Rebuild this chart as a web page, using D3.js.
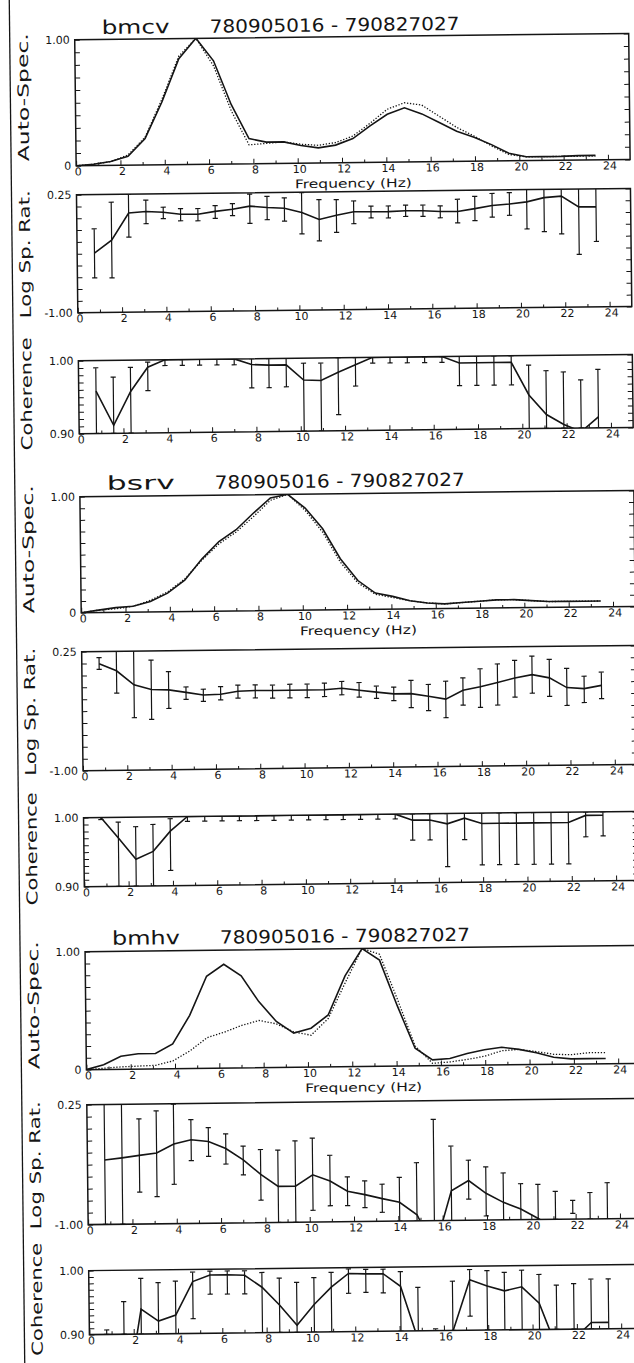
<!DOCTYPE html>
<html>
<head>
<meta charset="utf-8">
<script src="https://cdn.jsdelivr.net/npm/d3@7"></script>
<style>
  html, body { margin: 0; padding: 0; background: #fff; }
  svg { display: block; background: #fff; }
  text { font-family: 'DejaVu Sans', sans-serif; fill: #151515; }
  .axis text { font-size: 11px; }
  .axis line { stroke: #151515; stroke-width: 1; }
</style>
</head>
<body>
<svg id="chart" width="634" height="1363"></svg>
<script>
// spectral estimates are spaced 25/32 Hz apart
const binWidth = 25 / 32;
const specFreqs = d3.range(0, 31).map(k => k * binWidth);   // auto-spectra start at 0 Hz
const binFreqs = d3.range(1, 31).map(k => k * binWidth);    // ratio / coherence start at first bin
const freqLabels = [0, 2, 4, 6, 8, 10, 12, 14, 16, 18, 20, 22, 24];
const dateRange = '780905016 - 790827027';

// ---- bmcv ----
const bmcvSpecSolid  = [0, 0.01, 0.03, 0.07, 0.21, 0.5, 0.84, 1.0, 0.82, 0.47, 0.2, 0.17, 0.17, 0.14, 0.12, 0.14, 0.19, 0.29, 0.38, 0.43, 0.38, 0.31, 0.24, 0.19, 0.13, 0.06, 0.03, 0.03, 0.03, 0.035, 0.035];
const bmcvSpecDotted = [0, 0.01, 0.03, 0.08, 0.22, 0.52, 0.86, 1.0, 0.78, 0.42, 0.15, 0.16, 0.17, 0.15, 0.14, 0.16, 0.21, 0.31, 0.42, 0.47, 0.45, 0.36, 0.27, 0.2, 0.12, 0.05, 0.03, 0.03, 0.03, 0.03, 0.03];
const bmcvRatio   = [-0.37, -0.235, 0.05, 0.063, 0.053, 0.03, 0.028, 0.057, 0.077, 0.108, 0.092, 0.081, 0.034, -0.042, 0.001, 0.036, 0.034, 0.033, 0.04, 0.039, 0.028, 0.026, 0.055, 0.086, 0.1, 0.12, 0.163, 0.177, 0.061, 0.059];
const bmcvRatioHi = [-0.113, 0.166, 0.25, 0.184, 0.107, 0.09, 0.089, 0.117, 0.137, 0.235, 0.209, 0.192, 0.245, 0.168, 0.167, 0.15, 0.094, 0.093, 0.1, 0.099, 0.088, 0.156, 0.184, 0.213, 0.22, 0.26, 0.26, 0.26, 0.26, 0.26];
const bmcvRatioLo = [-0.634, -0.636, -0.206, -0.066, -0.014, -0.039, -0.041, -0.018, 0.01, -0.075, -0.038, -0.055, -0.192, -0.268, -0.18, -0.091, -0.032, -0.034, -0.02, -0.021, -0.038, -0.094, -0.072, -0.037, -0.02, -0.167, -0.198, -0.224, -0.442, -0.308];
const bmcvCoh   = [0.958, 0.911, 0.957, 0.99, 1.0, 1.0, 1.0, 1.0, 1.0, 0.992, 0.991, 0.991, 0.97, 0.969, 0.98, 0.99, 1.0, 1.0, 1.0, 1.0, 1.0, 0.991, 0.991, 0.991, 0.991, 0.946, 0.919, 0.905, 0.895, 0.915];
const bmcvCohHi = [0.99, 0.977, 0.99, 0.997, 1, 1, 1, 1, 1, 1, 1, 1, 0.993, 0.993, 1, 1, 1, 1, 1, 1, 1, 1, 1, 1, 1, 0.987, 0.979, 0.977, 0.966, 0.98];
const bmcvCohLo = [0.9, 0.9, 0.9, 0.958, 0.992, 0.992, 0.992, 0.992, 0.992, 0.96, 0.96, 0.961, 0.9, 0.9, 0.922, 0.961, 0.992, 0.992, 0.992, 0.992, 0.992, 0.96, 0.96, 0.96, 0.96, 0.9, 0.9, 0.9, 0.9, 0.9];

// ---- bsrv ----
const bsrvSpecSolid  = [0, 0.02, 0.04, 0.05, 0.09, 0.16, 0.27, 0.45, 0.6, 0.7, 0.84, 0.97, 1.0, 0.88, 0.7, 0.44, 0.25, 0.14, 0.11, 0.07, 0.05, 0.04, 0.05, 0.06, 0.07, 0.07, 0.06, 0.05, 0.05, 0.05, 0.05];
const bsrvSpecDotted = [0, 0.02, 0.03, 0.05, 0.1, 0.17, 0.28, 0.44, 0.58, 0.68, 0.81, 0.95, 1.0, 0.86, 0.67, 0.41, 0.23, 0.13, 0.1, 0.07, 0.05, 0.04, 0.05, 0.06, 0.07, 0.07, 0.06, 0.05, 0.05, 0.05, 0.05];
const bsrvRatio   = [0.12, 0.045, -0.104, -0.156, -0.162, -0.19, -0.22, -0.214, -0.185, -0.179, -0.18, -0.18, -0.18, -0.179, -0.166, -0.188, -0.21, -0.23, -0.23, -0.26, -0.292, -0.201, -0.166, -0.123, -0.078, -0.045, -0.081, -0.185, -0.198, -0.166];
const bsrvRatioHi = [0.185, 0.26, 0.26, 0.153, 0.03, -0.133, -0.159, -0.133, -0.12, -0.12, -0.123, -0.117, -0.117, -0.11, -0.094, -0.107, -0.146, -0.159, -0.091, -0.136, -0.104, -0.071, 0.023, 0.071, 0.107, 0.149, 0.114, 0.016, -0.068, -0.026];
const bsrvRatioLo = [0.062, -0.19, -0.45, -0.47, -0.357, -0.263, -0.286, -0.273, -0.257, -0.257, -0.26, -0.26, -0.26, -0.25, -0.234, -0.26, -0.276, -0.302, -0.377, -0.41, -0.487, -0.357, -0.383, -0.36, -0.279, -0.24, -0.276, -0.373, -0.344, -0.305];
const bsrvCoh   = [1.0, 0.97, 0.939, 0.95, 0.979, 1, 1, 1, 1, 1, 1, 1, 1, 1, 1, 1, 1, 1, 0.991, 0.991, 0.985, 0.993, 0.985, 0.985, 0.985, 0.985, 0.985, 0.985, 0.995, 0.995];
const bsrvCohHi = [1, 0.993, 0.986, 0.989, 0.997, 1, 1, 1, 1, 1, 1, 1, 1, 1, 1, 1, 1, 1, 1, 1, 1, 1, 1, 1, 1, 1, 1, 1, 1, 1];
const bsrvCohLo = [0.997, 0.9, 0.9, 0.9, 0.922, 0.993, 0.993, 0.993, 0.993, 0.993, 0.993, 0.993, 0.993, 0.993, 0.993, 0.993, 0.993, 0.993, 0.962, 0.962, 0.923, 0.962, 0.925, 0.925, 0.925, 0.925, 0.925, 0.925, 0.964, 0.965];

// ---- bmhv ----
const bmhvSpecSolid  = [0, 0.04, 0.11, 0.13, 0.13, 0.21, 0.45, 0.78, 0.88, 0.78, 0.56, 0.39, 0.29, 0.33, 0.44, 0.77, 1.0, 0.9, 0.51, 0.15, 0.05, 0.06, 0.1, 0.13, 0.15, 0.13, 0.1, 0.06, 0.045, 0.045, 0.045];
const bmhvSpecDotted = [0, 0.01, 0.02, 0.025, 0.03, 0.065, 0.15, 0.26, 0.305, 0.36, 0.4, 0.37, 0.3, 0.27, 0.41, 0.71, 1.0, 0.95, 0.57, 0.17, 0.02, 0.03, 0.05, 0.075, 0.12, 0.13, 0.11, 0.085, 0.08, 0.095, 0.095];
const bmhvRatio   = [-0.329, -0.309, -0.285, -0.262, -0.17, -0.128, -0.148, -0.223, -0.344, -0.497, -0.624, -0.625, -0.508, -0.574, -0.683, -0.72, -0.764, -0.804, -0.936, -1.3, -0.69, -0.586, -0.721, -0.817, -0.889, -0.99, -1.1, -1.2, -1.2, -1.2];
const bmhvRatioHi = [0.26, 0.26, 0.096, 0.177, 0.245, 0.082, -0.004, -0.071, -0.2, -0.238, -0.247, -0.152, -0.125, -0.306, -0.533, -0.577, -0.614, -0.545, -0.394, 0.055, -0.224, -0.374, -0.446, -0.511, -0.625, -0.634, -0.709, -0.804, -0.725, -0.625];
const bmhvRatioLo = [-1, -1, -0.667, -0.717, -0.59, -0.346, -0.304, -0.385, -0.5, -0.766, -1, -1, -0.877, -0.832, -0.833, -0.855, -0.906, -1, -1, -1, -1, -0.78, -0.957, -1, -1, -1, -1, -0.94, -1, -1];
const bmhvCoh   = [0.8, 0.78, 0.939, 0.92, 0.929, 0.981, 0.991, 0.991, 0.99, 0.971, 0.943, 0.911, 0.943, 0.97, 0.991, 0.99, 0.99, 0.97, 0.885, 0.85, 0.899, 0.979, 0.969, 0.961, 0.967, 0.941, 0.87, 0.885, 0.91, 0.91];
const bmhvCohHi = [0.907, 0.951, 0.987, 0.98, 0.982, 0.996, 0.997, 0.997, 0.997, 0.994, 0.985, 0.978, 0.985, 0.993, 0.998, 0.997, 0.997, 0.993, 0.968, 0.903, 0.977, 0.995, 0.993, 0.99, 0.993, 0.986, 0.969, 0.971, 0.978, 0.978];
const bmhvCohLo = [0.9, 0.9, 0.9, 0.9, 0.9, 0.923, 0.961, 0.961, 0.961, 0.9, 0.9, 0.9, 0.9, 0.9, 0.96, 0.961, 0.96, 0.9, 0.9, 0.9, 0.9, 0.922, 0.9, 0.9, 0.9, 0.9, 0.9, 0.9, 0.9, 0.9];

const ink = '#151515';
const svg = d3.select('#chart');
// the original sheet was scanned slightly askew
const root = svg.append('g').attr('transform', 'rotate(-0.65 317 680)');

const x = d3.scaleLinear().domain([0, 25]).range([82, 636]);
const [x0, x1] = x.range();
let clipCount = 0;

root.append('line')
    .attr('x1', 17).attr('x2', 17).attr('y1', -20).attr('y2', 1400)
    .attr('stroke', ink).attr('stroke-width', 1.3);

function drawTitle(name, baseline) {
    root.append('text').attr('x', x0 + 27).attr('y', baseline)
        .attr('font-size', 19).attr('textLength', 68).attr('lengthAdjust', 'spacingAndGlyphs')
        .text(name);
    root.append('text').attr('x', x0 + 135).attr('y', baseline)
        .attr('font-size', 18).attr('textLength', 250).attr('lengthAdjust', 'spacingAndGlyphs')
        .text(dateRange);
}

function drawPanel(p) {
    const y = d3.scaleLinear().domain(p.domain).range([p.bottom, p.top]);
    const g = root.append('g');
    const clipId = 'clip' + (clipCount++);
    g.append('clipPath').attr('id', clipId).append('rect')
        .attr('x', x0).attr('y', p.top).attr('width', x1 - x0).attr('height', p.bottom - p.top);

    const yTicks = d3.range(11).map(i => p.domain[0] + i * (p.domain[1] - p.domain[0]) / 10);

    // ticks, all pointing into the frame
    g.append('g').attr('class', 'axis').attr('transform', `translate(0,${p.bottom})`)
        .call(d3.axisBottom(x).tickValues(d3.range(1, 25, 2)).tickSize(-3).tickFormat(''))
        .call(a => a.select('.domain').remove());
    g.append('g').attr('class', 'axis').attr('transform', `translate(0,${p.bottom})`)
        .call(d3.axisBottom(x).tickValues(freqLabels).tickSize(-5).tickPadding(2).tickFormat(d3.format('d')))
        .call(a => a.select('.domain').remove())
        .call(a => a.selectAll('text').attr('dx', 1.5));
    g.append('g').attr('class', 'axis').attr('transform', `translate(${x0},0)`)
        .call(d3.axisLeft(y).tickValues(yTicks).tickSize(-5).tickFormat(''))
        .call(a => a.select('.domain').remove());
    g.append('g').attr('class', 'axis').attr('transform', `translate(${x1},0)`)
        .call(d3.axisRight(y).tickValues(yTicks).tickSize(-5).tickFormat(''))
        .call(a => a.select('.domain').remove());
    g.append('g').attr('class', 'axis').attr('transform', `translate(${x0},0)`)
        .call(d3.axisLeft(y).tickValues(p.domain).tickSize(0).tickPadding(5).tickFormat((d, i) => p.endLabels[i]))
        .call(a => a.select('.domain').remove());

    g.append('rect')
        .attr('x', x0).attr('y', p.top).attr('width', x1 - x0).attr('height', p.bottom - p.top)
        .attr('fill', 'none').attr('stroke', ink).attr('stroke-width', 1.5);

    g.append('text')
        .attr('transform', `translate(35,${(p.top + p.bottom) / 2 + p.titleShift}) rotate(-90)`)
        .attr('text-anchor', 'middle').attr('font-size', 15)
        .attr('textLength', p.titleLength).attr('lengthAdjust', 'spacingAndGlyphs')
        .text(p.title);

    if (p.freqTitle) {
        g.append('text').attr('x', (x0 + x1) / 2).attr('y', p.bottom + 25)
            .attr('text-anchor', 'middle').attr('font-size', 12)
            .attr('textLength', 117).attr('lengthAdjust', 'spacingAndGlyphs')
            .text('Frequency (Hz)');
    }

    const line = d3.line().x(d => x(d[0])).y(d => y(d[1]));
    p.lines.forEach(s => {
        g.append('path')
            .datum(s.values.map((v, i) => [s.freqs[i], v]))
            .attr('d', line)
            .attr('fill', 'none').attr('stroke', ink)
            .attr('stroke-width', s.dotted ? 1.3 : 1.6)
            .attr('stroke-dasharray', s.dotted ? '1.3 1.7' : null)
            .attr('clip-path', `url(#${clipId})`);
    });

    if (p.bars) {
        const cap = 2.6;
        g.append('g').attr('clip-path', `url(#${clipId})`)
            .selectAll('path').data(binFreqs).join('path')
            .attr('d', (f, i) => {
                const bx = x(f), yl = y(p.bars.lo[i]), yh = y(p.bars.hi[i]);
                return `M${bx},${yl}V${yh}M${bx - cap},${yl}H${bx + cap}M${bx - cap},${yh}H${bx + cap}`;
            })
            .attr('fill', 'none').attr('stroke', ink).attr('stroke-width', 1.2);
    }
}

const blocks = [
    { name: 'bmcv', titleY: 31.5, spec: [37, 163], ratio: [192, 310], coh: [358, 431],
      specA: bmcvSpecSolid, specB: bmcvSpecDotted, ratioV: bmcvRatio, ratioHi: bmcvRatioHi, ratioLo: bmcvRatioLo,
      cohV: bmcvCoh, cohHi: bmcvCohHi, cohLo: bmcvCohLo },
    { name: 'bsrv', titleY: 487.5, spec: [494, 610], ratio: [649, 768], coh: [815, 884],
      specA: bsrvSpecSolid, specB: bsrvSpecDotted, ratioV: bsrvRatio, ratioHi: bsrvRatioHi, ratioLo: bsrvRatioLo,
      cohV: bsrvCoh, cohHi: bsrvCohHi, cohLo: bsrvCohLo },
    { name: 'bmhv', titleY: 942.5, spec: [949, 1067], ratio: [1102, 1222], coh: [1268, 1332],
      specA: bmhvSpecSolid, specB: bmhvSpecDotted, ratioV: bmhvRatio, ratioHi: bmhvRatioHi, ratioLo: bmhvRatioLo,
      cohV: bmhvCoh, cohHi: bmhvCohHi, cohLo: bmhvCohLo }
];

blocks.forEach(b => {
    drawTitle(b.name, b.titleY);
    drawPanel({
        top: b.spec[0], bottom: b.spec[1], domain: [0, 1], endLabels: ['0', '1.00'],
        title: 'Auto-Spec.', titleLength: 128, titleShift: -6, freqTitle: true,
        lines: [
            { freqs: specFreqs, values: b.specB, dotted: true },
            { freqs: specFreqs, values: b.specA }
        ]
    });
    drawPanel({
        top: b.ratio[0], bottom: b.ratio[1], domain: [-1, 0.25], endLabels: ['-1.00', '0.25'],
        title: 'Log Sp. Rat.', titleLength: 128, titleShift: 0,
        lines: [{ freqs: binFreqs, values: b.ratioV }],
        bars: { hi: b.ratioHi, lo: b.ratioLo }
    });
    drawPanel({
        top: b.coh[0], bottom: b.coh[1], domain: [0.9, 1], endLabels: ['0.90', '1.00'],
        title: 'Coherence', titleLength: 113, titleShift: -4,
        lines: [{ freqs: binFreqs, values: b.cohV }],
        bars: { hi: b.cohHi, lo: b.cohLo }
    });
});
</script>
</body>
</html>
